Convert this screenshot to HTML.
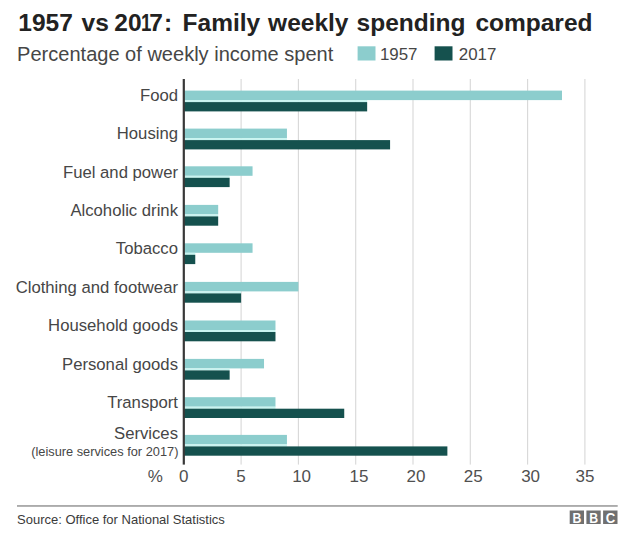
<!DOCTYPE html>
<html><head><meta charset="utf-8">
<style>
html,body{margin:0;padding:0;background:#fff;}
body{width:637px;height:537px;position:relative;overflow:hidden;font-family:"Liberation Sans",sans-serif;color:#404040;}
.abs{position:absolute;white-space:nowrap;}
#title{position:absolute;left:0;top:7.7px;font-size:24.5px;font-weight:bold;color:#222;line-height:30px;height:30px;width:637px;}
#title span{position:absolute;top:0;white-space:nowrap;}
#title span span{position:static;}
#sub{left:17.1px;top:40.8px;font-size:20.05px;color:#464646;line-height:26px;}
.leg{font-size:16.9px;line-height:20px;top:45.1px;color:#464646;}
.lab{position:absolute;right:459px;font-size:16.7px;line-height:20px;white-space:nowrap;text-align:right;color:#464646;}
.tick{position:absolute;top:467px;font-size:17px;line-height:20px;width:40px;text-align:center;color:#505050;}
#chart{position:absolute;left:0;top:0;}
</style></head><body>
<div id="title"><span id="w0" style="left:18.3px">1957</span><span id="w1" style="left:81.6px">vs</span><span id="w2" style="left:114.3px">20</span><span id="w2b" style="left:141.0px;transform:scaleX(0.76);transform-origin:0 0">1</span><span id="w2c" style="left:149.2px">7</span><span id="w2d" style="left:164.0px">:</span><span id="w3" style="left:182.6px">Family</span><span id="w4" style="left:268.1px">weekly</span><span id="w5" style="left:356.6px">spending</span><span id="w6" style="left:475.4px">compared</span></div>
<div class="abs" id="sub">Percentage of weekly income spent</div>
<div class="abs leg" id="l1" style="left:379.9px">1957</div>
<div class="abs leg" id="l2" style="left:458.8px">2017</div>
<svg id="chart" width="637" height="537" viewBox="0 0 637 537">
<rect x="357.6" y="46.3" width="17.9" height="14.2" fill="#8ccdcd"/>
<rect x="434.6" y="46.3" width="17.9" height="14.2" fill="#15514e"/>
<rect x="240.55" y="79" width="1.1" height="385.6" fill="#d8d8d8"/>
<rect x="297.85" y="79" width="1.1" height="385.6" fill="#d8d8d8"/>
<rect x="355.15" y="79" width="1.1" height="385.6" fill="#d8d8d8"/>
<rect x="412.45" y="79" width="1.1" height="385.6" fill="#d8d8d8"/>
<rect x="469.75" y="79" width="1.1" height="385.6" fill="#d8d8d8"/>
<rect x="527.05" y="79" width="1.1" height="385.6" fill="#d8d8d8"/>
<rect x="584.35" y="79" width="1.1" height="385.6" fill="#d8d8d8"/>
<rect x="183.80" y="90.60" width="378.18" height="9.5" fill="#8ccdcd"/>
<rect x="183.80" y="100.10" width="183.36" height="2.1" fill="#c8f4f0"/>
<rect x="183.80" y="102.10" width="183.36" height="9.3" fill="#15514e"/>
<rect x="183.80" y="128.60" width="103.14" height="9.5" fill="#8ccdcd"/>
<rect x="183.80" y="138.10" width="103.14" height="2.1" fill="#c8f4f0"/>
<rect x="183.80" y="140.10" width="206.28" height="9.3" fill="#15514e"/>
<rect x="183.80" y="166.30" width="68.76" height="9.5" fill="#8ccdcd"/>
<rect x="183.80" y="175.80" width="45.84" height="2.1" fill="#c8f4f0"/>
<rect x="183.80" y="177.80" width="45.84" height="9.3" fill="#15514e"/>
<rect x="183.80" y="204.90" width="34.38" height="9.5" fill="#8ccdcd"/>
<rect x="183.80" y="214.40" width="34.38" height="2.1" fill="#c8f4f0"/>
<rect x="183.80" y="216.40" width="34.38" height="9.3" fill="#15514e"/>
<rect x="183.80" y="243.30" width="68.76" height="9.5" fill="#8ccdcd"/>
<rect x="183.80" y="252.80" width="11.46" height="2.1" fill="#c8f4f0"/>
<rect x="183.80" y="254.80" width="11.46" height="9.3" fill="#15514e"/>
<rect x="183.80" y="281.90" width="114.60" height="9.5" fill="#8ccdcd"/>
<rect x="183.80" y="291.40" width="57.30" height="2.1" fill="#c8f4f0"/>
<rect x="183.80" y="293.40" width="57.30" height="9.3" fill="#15514e"/>
<rect x="183.80" y="320.50" width="91.68" height="9.5" fill="#8ccdcd"/>
<rect x="183.80" y="330.00" width="91.68" height="2.1" fill="#c8f4f0"/>
<rect x="183.80" y="332.00" width="91.68" height="9.3" fill="#15514e"/>
<rect x="183.80" y="358.90" width="80.22" height="9.5" fill="#8ccdcd"/>
<rect x="183.80" y="368.40" width="45.84" height="2.1" fill="#c8f4f0"/>
<rect x="183.80" y="370.40" width="45.84" height="9.3" fill="#15514e"/>
<rect x="183.80" y="397.20" width="91.68" height="9.5" fill="#8ccdcd"/>
<rect x="183.80" y="406.70" width="91.68" height="2.1" fill="#c8f4f0"/>
<rect x="183.80" y="408.70" width="160.44" height="9.3" fill="#15514e"/>
<rect x="183.80" y="434.90" width="103.14" height="9.5" fill="#8ccdcd"/>
<rect x="183.80" y="444.40" width="103.14" height="2.1" fill="#c8f4f0"/>
<rect x="183.80" y="446.40" width="263.58" height="9.3" fill="#15514e"/>
<rect x="182.70" y="79" width="2.2" height="385.6" fill="#383838"/>
<rect x="17" y="505.1" width="600.7" height="1.7" fill="#a2a2a2"/>
<g fill="#707070"><rect x="569.7" y="510.5" width="14.3" height="13.5"/><rect x="586.4" y="510.5" width="14.3" height="13.5"/><rect x="603.1" y="510.5" width="14.4" height="13.5"/></g>
<g font-family="Liberation Sans, sans-serif" font-weight="bold" font-size="14.3" fill="#fff" text-anchor="middle">
<text transform="translate(576.9 522.5) scale(0.86 1)">B</text><text transform="translate(593.6 522.5) scale(0.86 1)">B</text><text transform="translate(610.4 522.5) scale(0.92 1)">C</text></g>
</svg>
<div class="lab" id="lab0" style="top:86.0px">Food</div>
<div class="lab" id="lab1" style="top:124.0px">Housing</div>
<div class="lab" id="lab2" style="top:163.0px">Fuel and power</div>
<div class="lab" id="lab3" style="top:200.5px">Alcoholic drink</div>
<div class="lab" id="lab4" style="top:239.1px">Tobacco</div>
<div class="lab" id="lab5" style="top:278.3px">Clothing and footwear</div>
<div class="lab" id="lab6" style="top:316.4px">Household goods</div>
<div class="lab" id="lab7" style="top:354.7px">Personal goods</div>
<div class="lab" id="lab8" style="top:392.6px">Transport</div>
<div class="lab" id="lab9" style="top:424.1px">Services</div>
<div class="lab" id="lab10" style="top:444.2px;right:458.6px;font-size:12.8px;line-height:16px">(leisure services for 2017)</div>
<div class="tick" id="tp" style="left:135.3px">%</div>
<div class="tick" id="t0" style="left:163.8px">0</div>
<div class="tick" id="t5" style="left:221.1px">5</div>
<div class="tick" id="t10" style="left:281.6px">10</div>
<div class="tick" id="t15" style="left:338.9px">15</div>
<div class="tick" id="t20" style="left:396.0px">20</div>
<div class="tick" id="t25" style="left:453.3px">25</div>
<div class="tick" id="t30" style="left:510.6px">30</div>
<div class="tick" id="t35" style="left:564.9px">35</div>
<div class="abs" id="src" style="left:17px;top:511.7px;font-size:13px;line-height:16px;color:#3a3a3a">Source: Office for National Statistics</div>
</body></html>
